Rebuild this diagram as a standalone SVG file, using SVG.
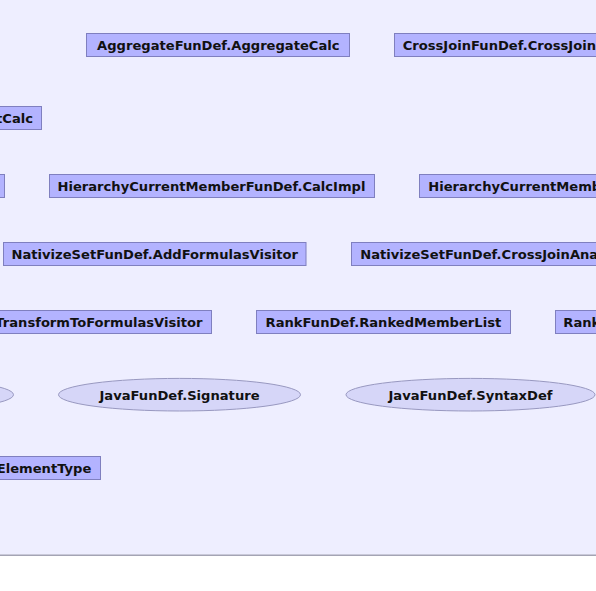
<svg xmlns="http://www.w3.org/2000/svg" width="596" height="591" viewBox="0 0 596 591">
<style>
.bg{fill:#eeeeff}
.sep{stroke:#a4a4b4;stroke-width:1.5}
.box{fill:#b3b3ff;stroke:#7f7fbf;stroke-width:1}
.ell{fill:#d6d6f8;stroke:#9898c0;stroke-width:1}
text{font-family:"DejaVu Sans","Liberation Sans",sans-serif;font-size:13.1px;font-weight:bold;fill:#111111}
.m{text-anchor:middle}
.e{text-anchor:end}
</style>
<rect class="bg" x="0" y="0" width="596" height="555"/>
<rect x="0" y="555" width="596" height="36" fill="#ffffff"/>
<line class="sep" x1="0" y1="555.2" x2="596" y2="555.2"/>
<g id="connectors"></g>
<g id="n-aggregatecalc"><rect class="box" x="86.5" y="33.5" width="263" height="23"/><text class="m" x="218.3" y="49.6">AggregateFunDef.AggregateCalc</text></g>
<g id="n-crossjoiniter"><rect class="box" x="394.5" y="33.5" width="260" height="23"/><text x="402.7" y="49.6">CrossJoinFunDef.CrossJoinI</text></g>
<g id="n-listcalc"><rect class="box" x="-60" y="106.5" width="101.5" height="23"/><text class="e" x="33" y="122.6">tCalc</text></g>
<g id="n-row3left"><rect class="box" x="-60" y="174.5" width="64.5" height="23"/></g>
<g id="n-calcimpl"><rect class="box" x="49.5" y="174.5" width="325" height="23"/><text class="m" x="211.5" y="190.6">HierarchyCurrentMemberFunDef.CalcImpl</text></g>
<g id="n-fixedcalcimpl"><rect class="box" x="419.5" y="174.5" width="260" height="23"/><text x="428.3" y="190.6">HierarchyCurrentMemb</text></g>
<g id="n-addformulas"><rect class="box" x="3.5" y="242.5" width="302.5" height="23"/><text class="m" x="154.75" y="258.6">NativizeSetFunDef.AddFormulasVisitor</text></g>
<g id="n-crossjoinanalyzer"><rect class="box" x="351.5" y="242.5" width="300" height="23"/><text x="360.3" y="258.6">NativizeSetFunDef.CrossJoinAna</text></g>
<g id="n-transform"><rect class="box" x="-60" y="310.5" width="271.5" height="23"/><text class="e" x="202.5" y="326.6">TransformToFormulasVisitor</text></g>
<g id="n-rankedmember"><rect class="box" x="256.5" y="310.5" width="254" height="23"/><text class="m" x="383.4" y="326.6">RankFunDef.RankedMemberList</text></g>
<g id="n-rankedtuple"><rect class="box" x="555.5" y="310.5" width="200" height="23"/><text x="563.3" y="326.6">Rank</text></g>
<g id="n-leftellipse"><ellipse class="ell" cx="-108" cy="394.7" rx="121.5" ry="16.3"/></g>
<g id="n-signature"><ellipse class="ell" cx="179.5" cy="394.7" rx="121" ry="16.3"/><text class="m" x="179.5" y="399.6">JavaFunDef.Signature</text></g>
<g id="n-syntaxdef"><ellipse class="ell" cx="470.5" cy="394.7" rx="124.5" ry="16.3"/><text class="m" x="470.5" y="399.6">JavaFunDef.SyntaxDef</text></g>
<g id="n-elementtype"><rect class="box" x="-60" y="456.5" width="160.5" height="23"/><text class="e" x="91.3" y="472.6">ElementType</text></g>
</svg>
